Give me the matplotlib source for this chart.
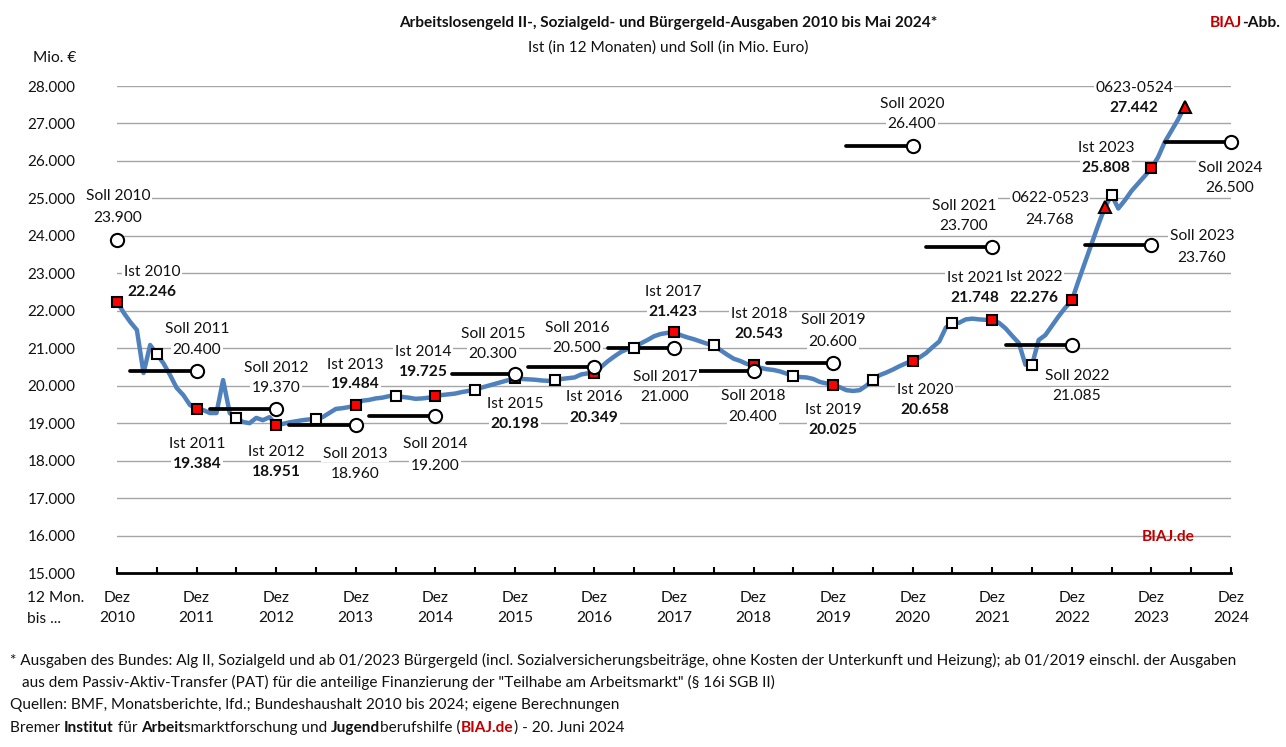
import matplotlib
matplotlib.use("Agg")
import matplotlib.pyplot as plt

W, H = 1286, 747
plt.rcParams['font.family'] = ['Lato', 'DejaVu Sans']
FS = 11.2

# Monthly 12-month spending, Dec 2010 (index 0) to May 2024 (index 161)
ist_series = [
 22246,21950,21700,21487,20339,21087,20846,20600,20285,19940,19750,19485,
 19384,19350,19270,19270,20150,19270,19140,19030,19000,19140,19080,19160,
 18951,18980,19020,19050,19080,19100,19110,19160,19270,19380,19400,19430,
 19484,19600,19620,19660,19680,19720,19725,19700,19680,19650,19660,19680,
 19725,19750,19770,19790,19830,19860,19890,19950,20000,20050,20100,20150,
 20198,20180,20170,20160,20140,20130,20150,20180,20200,20220,20300,20330,
 20349,20500,20650,20780,20900,20980,21007,21130,21220,21320,21380,21410,
 21423,21350,21290,21240,21180,21120,21087,20950,20830,20720,20660,20580,
 20543,20480,20440,20420,20380,20320,20260,20230,20220,20180,20100,20060,
 20025,19960,19880,19860,19880,20000,20150,20280,20350,20430,20520,20600,
 20658,20750,20870,21030,21180,21550,21670,21680,21770,21790,21770,21760,
 21748,21680,21530,21330,21140,20560,20560,21220,21350,21600,21850,22080,
 22276,22800,23300,23800,24300,24768,25090,24730,24950,25200,25400,25600,
 25808,26100,26500,26800,27100,27442]

years = list(range(2010, 2025))
ist_years = list(range(2010, 2024))
ist_values = [22246,19384,18951,19484,19725,20198,20349,21423,20543,20025,20658,21748,22276,25808]
soll_values = [23900,20400,19370,18960,19200,20300,20500,21000,20400,20600,26400,23700,21085,23760,26500]
soll_start = [None,2,14,26,38,50.5,62,74,87.5,98,110,122,134,146,158]
half_year_idx = [6,18,30,42,54,66,78,90,102,114,126,138,150]
minor_ticks = half_year_idx + [162]
tri_idx = [149,161]
tri_names = ['0622-0523','0623-0524']
yticks = list(range(15000, 29000, 1000))

def fmt(v):
    return f"{v:,}".replace(",", ".")

def px(x, y):
    return x / W, 1 - y / H

fig = plt.figure(figsize=(W/100, H/100), dpi=100, facecolor='white')
ax = fig.add_axes([117/W, 1-573/H, (1231-117)/W, (573-86)/H])
ax.set_xlim(0, 168)
ax.set_ylim(15000, 28000)
for s in ['top','left','right']:
    ax.spines[s].set_visible(False)
ax.spines['bottom'].set_linewidth(2.0)
ax.spines['bottom'].set_zorder(1)
ax.set_yticks(yticks)
ax.set_yticklabels([fmt(v) for v in yticks], fontsize=FS-0.2, color='#111111')
ax.tick_params(axis='y', length=0, pad=30)
ax.grid(axis='y', color='#a6a6a6', lw=1.0, zorder=0)
ax.set_axisbelow(True)
ax.set_xticks([12*i for i in range(15)])
ax.set_xticklabels([f"Dez\n{y}" for y in years], fontsize=FS, color='#111111', linespacing=1.55)
ax.set_xticks(minor_ticks, minor=True)
ax.tick_params(axis='x', which='both', direction='in', length=4, width=1.5, pad=13, color='black')

ax.plot(range(len(ist_series)), ist_series, color='#4f81bd', lw=3.2, zorder=3, solid_joinstyle='round', clip_on=False)

for i, (st, v) in enumerate(zip(soll_start, soll_values)):
    if st is not None:
        ax.plot([st, 12*i], [v, v], color='black', lw=2.7, zorder=4, solid_capstyle='round')

ax.plot([12*i for i in range(len(ist_values))], ist_values, ls='none', marker='s', ms=7.5,
        mfc='#ff0000', mec='black', mew=1.5, zorder=5, clip_on=False)
ax.plot([12*i for i in range(len(soll_values))], soll_values, ls='none', marker='o', ms=9.5,
        mfc='white', mec='black', mew=1.5, zorder=6, clip_on=False)
ax.plot(half_year_idx, [ist_series[i] for i in half_year_idx], ls='none', marker='s', ms=7.5,
        mfc='white', mec='black', mew=1.5, zorder=7)
ax.plot(tri_idx, [ist_series[i] for i in tri_idx], ls='none', marker='^', ms=9,
        mfc='#ff0000', mec='black', mew=1.5, zorder=8)

BOX = dict(facecolor='white', edgecolor='none', pad=1.0)

def label(x, y, s, bold=False, box=True):
    fig.text(*px(x, y + 1.5), s, ha='center', va='center', fontsize=FS, color='#111111',
             fontweight='bold' if bold else 'normal', bbox=BOX if box else None, zorder=2)

soll_pos = {2010:(118,195,216),2011:(197,328,348),2012:(276,367,387),2013:(355,452,472),2014:(435,443,464),
            2015:(493,333,353),2016:(577,326,346),2017:(665,376,396),2018:(753,394,415),2019:(833,319,340),
            2020:(912,102,123),2021:(964,204,224),2022:(1077,374,394),2023:(1202,235,256),2024:(1230,167,187)}
ist_pos = {2010:(152,270,291),2011:(197,443,463),2012:(276,450,470),2013:(355,363,383),2014:(423,351,370),
           2015:(515,402,422),2016:(594,396,417),2017:(673,290,310),2018:(759,312,332),2019:(833,408,428),
           2020:(925,388,408),2021:(975,277,297),2022:(1034,276,296),2023:(1106,146,167)}
for y, v in zip(years, soll_values):
    x, y1, y2 = soll_pos[y]
    label(x, y1, f"Soll {y}")
    label(x, y2, fmt(v))
for y, v in zip(ist_years, ist_values):
    x, y1, y2 = ist_pos[y]
    label(x, y1, f"Ist {y}")
    label(x, y2, fmt(v), bold=True)
label(1050, 197, tri_names[0]); label(1050, 218, fmt(ist_series[tri_idx[0]]))
label(1134, 87, tri_names[1]); label(1134, 107, fmt(ist_series[tri_idx[1]]), bold=True)

def runs(x, y, parts, fs=FS):
    r = fig.canvas.get_renderer()
    for s, bold, col in parts:
        t = fig.text(*px(x, y), s, ha='left', va='center', fontsize=fs, color=col,
                     fontweight='bold' if bold else 'normal')
        x += t.get_window_extent(r).width

K = '#111111'; R = '#c00000'
TF = 11.1
fig.text(*px(668, 23), "Arbeitslosengeld II-, Sozialgeld- und Bürgergeld-Ausgaben 2010 bis Mai 2024*",
         ha='center', va='center', fontsize=TF, fontweight='bold', color=K)
fig.text(*px(668, 48), "Ist (in 12 Monaten) und Soll (in Mio. Euro)", ha='center', va='center', fontsize=TF, color=K)
runs(1210, 23, [("BIAJ", True, R), ("-Abb.", True, K)])
fig.text(*px(54.5, 58), "Mio. €", ha='center', va='center', fontsize=FS, color=K)
fig.text(*px(1168, 537), "BIAJ.de", ha='center', va='center', fontsize=FS, fontweight='bold', color=R)
fig.text(*px(27, 598), "12 Mon.", ha='left', va='center', fontsize=FS, color=K)
fig.text(*px(27, 619), "bis ...", ha='left', va='center', fontsize=FS, color=K)

FF = 11.05
fig.text(*px(10, 660), "* Ausgaben des Bundes: Alg II, Sozialgeld und ab 01/2023 Bürgergeld (incl. Sozialversicherungsbeiträge, ohne Kosten der Unterkunft und Heizung); ab 01/2019 einschl. der Ausgaben",
         ha='left', va='center', fontsize=FF, color=K)
fig.text(*px(22, 682), 'aus dem Passiv-Aktiv-Transfer (PAT) für die anteilige Finanzierung der "Teilhabe am Arbeitsmarkt" (§ 16i SGB II)',
         ha='left', va='center', fontsize=FF, color=K)
fig.text(*px(10, 705), "Quellen: BMF, Monatsberichte, lfd.; Bundeshaushalt 2010 bis 2024; eigene Berechnungen",
         ha='left', va='center', fontsize=FF, color=K)
runs(10, 728, [("Bremer ", False, K), ("Institut", True, K), (" für ", False, K), ("Arbeit", True, K),
               ("smarktforschung und ", False, K), ("Jugend", True, K), ("berufshilfe (", False, K),
               ("BIAJ.de", True, R), (") - 20. Juni 2024", False, K)], fs=FF)

fig.savefig("out.png", dpi=100)
